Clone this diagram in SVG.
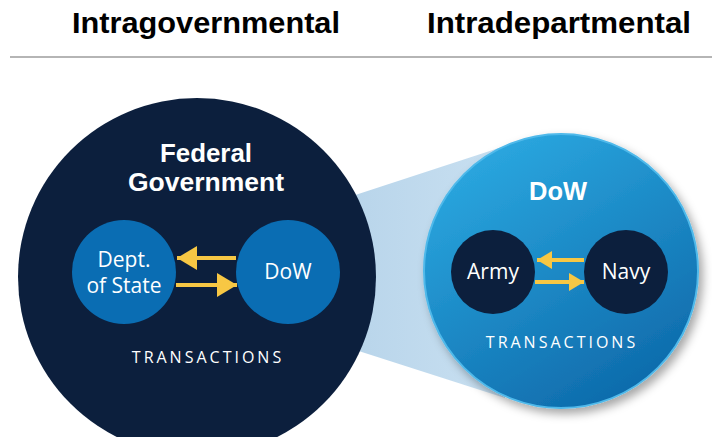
<svg xmlns="http://www.w3.org/2000/svg" width="712" height="437" viewBox="0 0 712 437">
<style>
.hdr{font-family:"Liberation Sans",Arial,sans-serif;font-weight:bold;font-size:30px;fill:#000;}
.title{font-family:"Liberation Sans",Arial,sans-serif;font-weight:bold;font-size:25px;fill:#fff;text-anchor:middle;}
.lbl{font-family:"Open Sans","Liberation Sans",sans-serif;font-size:21px;fill:#fff;text-anchor:middle;}
.tx{font-family:"Open Sans","Liberation Sans",sans-serif;font-size:16px;fill:#fff;text-anchor:middle;letter-spacing:3px;}
.arr{stroke:#f7c744;stroke-width:4;fill:none;}
</style>
<defs>
<linearGradient id="gBig" x1="0.2" y1="0" x2="0.8" y2="1">
<stop offset="0" stop-color="#2caae2"/>
<stop offset="1" stop-color="#0c67a8"/>
</linearGradient>
<linearGradient id="gCone" x1="0" y1="0" x2="1" y2="0">
<stop offset="0" stop-color="#b7d4ea"/>
<stop offset="1" stop-color="#c9e0f1"/>
</linearGradient>
<filter id="sh" x="-20%" y="-20%" width="140%" height="140%">
<feDropShadow dx="4" dy="5" stdDeviation="5" flood-color="#000" flood-opacity="0.35"/>
</filter>
<marker id="ahL" markerWidth="20" markerHeight="24" refX="20" refY="12" orient="auto" markerUnits="userSpaceOnUse">
<path d="M0,0 L20,12 L0,24 Z" fill="#f7c744"/>
</marker>
<marker id="ahS" markerWidth="15" markerHeight="18" refX="15" refY="9" orient="auto" markerUnits="userSpaceOnUse">
<path d="M0,0 L15,9 L0,18 Z" fill="#f7c744"/>
</marker>
</defs>
<rect width="712" height="437" fill="#fff"/>
<text class="hdr" x="72" y="33" textLength="268" lengthAdjust="spacingAndGlyphs">Intragovernmental</text>
<text class="hdr" x="427" y="33" textLength="264" lengthAdjust="spacingAndGlyphs">Intradepartmental</text>
<line x1="10" y1="57" x2="712" y2="57" stroke="#b5b5b5" stroke-width="2"/>

<g id="zoom-cone">
<polygon points="340,200 505,146 505,398 340,345" fill="url(#gCone)"/>
</g>

<g id="federal">
<circle cx="197" cy="277" r="179" fill="#0c1f3d"/>
<text class="title" x="206" y="162" textLength="92" lengthAdjust="spacingAndGlyphs">Federal</text>
<text class="title" x="206" y="191" textLength="156" lengthAdjust="spacingAndGlyphs">Government</text>
<text class="tx" x="208" y="363">TRANSACTIONS</text>
</g>
<g id="state">
<circle cx="124" cy="272" r="52" fill="#0a6db3"/>
<text class="lbl"><tspan x="124" y="267">Dept.</tspan><tspan x="124" y="293">of State</tspan></text>
</g>
<g id="dow1">
<circle cx="288" cy="272" r="52" fill="#0a6db3"/>
<text class="lbl" x="288" y="279">DoW</text>
</g>
<g id="dow2">
<circle cx="561" cy="271" r="137" fill="url(#gBig)" stroke="#4fb9ea" stroke-width="2" filter="url(#sh)"/>
<text class="title" x="558" y="200" textLength="58" lengthAdjust="spacingAndGlyphs">DoW</text>
<text class="tx" x="562" y="348">TRANSACTIONS</text>
</g>
<g id="army">
<circle cx="493" cy="272" r="42" fill="#0c1f3d"/>
<text class="lbl" x="493" y="279">Army</text>
</g>
<g id="navy">
<circle cx="626" cy="272" r="42" fill="#0c1f3d"/>
<text class="lbl" x="626" y="279">Navy</text>
</g>
<g id="connectors">
<line class="arr" x1="236" y1="258" x2="177" y2="258" marker-end="url(#ahL)"/>
<line class="arr" x1="176" y1="285" x2="237" y2="285" marker-end="url(#ahL)"/>
<line class="arr" x1="584" y1="260" x2="537" y2="260" marker-end="url(#ahS)"/>
<line class="arr" x1="535" y1="282" x2="584" y2="282" marker-end="url(#ahS)"/>
</g>
</svg>
